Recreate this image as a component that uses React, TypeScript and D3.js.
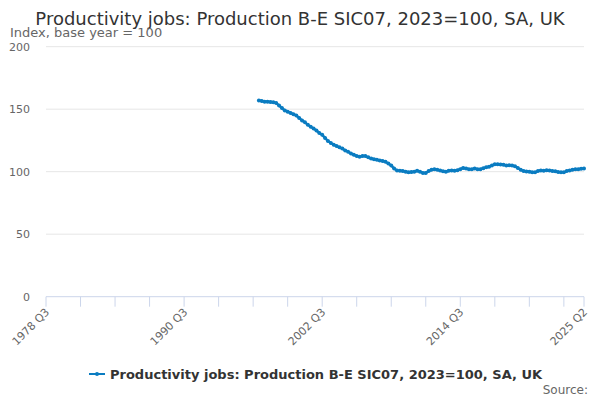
import React, { useEffect, useRef } from "react";
import * as d3 from "d3";

// quarter index 0 = 1978 Q3, last = 2025 Q2
const firstYear = 1978;
const firstQuarter = 3;
const totalQuarters = 188;
const dataStartIndex = 74; // 1997 Q1

const tickLabelIndexes = [0, 48, 96, 144, 187];
const yTicks = [0, 50, 100, 150, 200];

// 1997 Q1 .. 2025 Q2
const values = [
  157, 156.5, 156, 156, 155.8, 155.5, 155, 153, 151, 149, 148, 147, 146, 145,
  143, 141, 139.5, 137.5, 136, 134.5, 133, 131, 129.5, 127, 124.5, 123, 121.5,
  120.5, 119.5, 118.5, 117, 116, 114.5, 113.5, 112.5, 112, 112.5, 112.5, 111.5,
  110.5, 110, 109.5, 109, 108.5, 108, 106.5, 105, 102.5, 101, 100.8, 100.5, 100,
  99.5, 99.8, 100, 100.8, 100, 99, 99, 100.5, 101.5, 102, 101.5, 101, 100.3,
  100, 100.8, 101, 100.8, 101.2, 102, 103, 102.5, 102, 102, 102.5, 102, 102,
  102.8, 103.5, 104, 105, 106, 106, 105.8, 105.5, 105, 105.2, 105, 104.3, 103,
  101.5, 100.5, 100.2, 100, 99.5, 99.5, 100.5, 101, 100.8, 101.2, 101, 100.5,
  100.3, 99.8, 99.5, 99.5, 100.5, 101, 101.5, 102, 102, 102.3, 102.5,
];

const title = "Productivity jobs: Production B-E SIC07, 2023=100, SA, UK";
const seriesName = "Productivity jobs: Production B-E SIC07, 2023=100, SA, UK";
const lineColor = "#0a7cc1";
const font = "'DejaVu Sans', Verdana, sans-serif";

function quarterLabel(i: number) {
  const q0 = firstQuarter - 1 + i;
  const year = firstYear + Math.floor(q0 / 4);
  return `${year} Q${(q0 % 4) + 1}`;
}

export default function App() {
  const ref = useRef<SVGSVGElement>(null);

  useEffect(() => {
    if (!ref.current) return;
    const svg = d3.select(ref.current);
    svg.selectAll("*").remove();

    const width = 600;
    const height = 400;

    const x = d3.scaleLinear().domain([0, totalQuarters - 1]).range([46, 584]);
    const y = d3.scaleLinear().domain([0, 200]).range([296.7, 46.7]);

    svg
      .append("rect")
      .attr("width", width)
      .attr("height", height)
      .attr("fill", "#fff");

    // title
    svg
      .append("text")
      .attr("x", width / 2)
      .attr("y", 25)
      .attr("text-anchor", "middle")
      .attr("font-size", 18)
      .attr("fill", "#333")
      .text(title);

    svg
      .append("text")
      .attr("x", 10)
      .attr("y", 37)
      .attr("font-size", 13)
      .attr("fill", "#666")
      .text("Index, base year = 100");

    // grid
    svg
      .append("g")
      .selectAll("line")
      .data(yTicks.filter((t) => t > 0))
      .join("line")
      .attr("x1", 46)
      .attr("x2", 584)
      .attr("y1", (d) => y(d))
      .attr("y2", (d) => y(d))
      .attr("stroke", "#e6e6e6")
      .attr("stroke-width", 1);

    svg
      .append("g")
      .selectAll("text")
      .data(yTicks)
      .join("text")
      .attr("x", 30)
      .attr("y", (d) => y(d) + 4)
      .attr("text-anchor", "end")
      .attr("font-size", 11)
      .attr("fill", "#666")
      .text((d) => d);

    // x axis
    svg
      .append("line")
      .attr("x1", 46)
      .attr("x2", 584)
      .attr("y1", y(0))
      .attr("y2", y(0))
      .attr("stroke", "#ccd6eb");

    const tickIdx = d3.range(0, totalQuarters, 12).concat([totalQuarters - 1]);
    svg
      .append("g")
      .selectAll("line")
      .data(tickIdx)
      .join("line")
      .attr("x1", (d) => x(d))
      .attr("x2", (d) => x(d))
      .attr("y1", y(0))
      .attr("y2", y(0) + 10)
      .attr("stroke", "#ccd6eb");

    svg
      .append("g")
      .selectAll("text")
      .data(tickLabelIndexes)
      .join("text")
      .attr("text-anchor", "end")
      .attr("font-size", 11)
      .attr("fill", "#666")
      .attr(
        "transform",
        (d) => `translate(${x(d) + 4},${y(0) + 16}) rotate(-45)`
      )
      .text((d) => quarterLabel(d));

    // series
    const line = d3
      .line<number>()
      .x((_, i) => x(dataStartIndex + i))
      .y((d) => y(d));

    svg
      .append("path")
      .datum(values)
      .attr("d", line)
      .attr("fill", "none")
      .attr("stroke", lineColor)
      .attr("stroke-width", 2.5)
      .attr("stroke-linejoin", "round");

    svg
      .append("g")
      .selectAll("circle")
      .data(values)
      .join("circle")
      .attr("cx", (_, i) => x(dataStartIndex + i))
      .attr("cy", (d) => y(d))
      .attr("r", 2)
      .attr("fill", lineColor);

    // legend
    const legend = svg.append("g").attr("transform", "translate(89,374)");
    legend
      .append("line")
      .attr("x1", 0)
      .attr("x2", 16)
      .attr("stroke", lineColor)
      .attr("stroke-width", 2);
    legend.append("circle").attr("cx", 8).attr("r", 2).attr("fill", lineColor);
    legend
      .append("text")
      .attr("x", 21)
      .attr("y", 5)
      .attr("font-size", 13)
      .attr("font-weight", "bold")
      .attr("fill", "#333")
      .text(seriesName);

    svg
      .append("text")
      .attr("x", 588)
      .attr("y", 394)
      .attr("text-anchor", "end")
      .attr("font-size", 12)
      .attr("fill", "#666")
      .text("Source:");
  }, []);

  return (
    <svg
      ref={ref}
      width={600}
      height={400}
      style={{
        display: "block",
        position: "absolute",
        left: 0,
        top: 0,
        fontFamily: font,
      }}
    />
  );
}
